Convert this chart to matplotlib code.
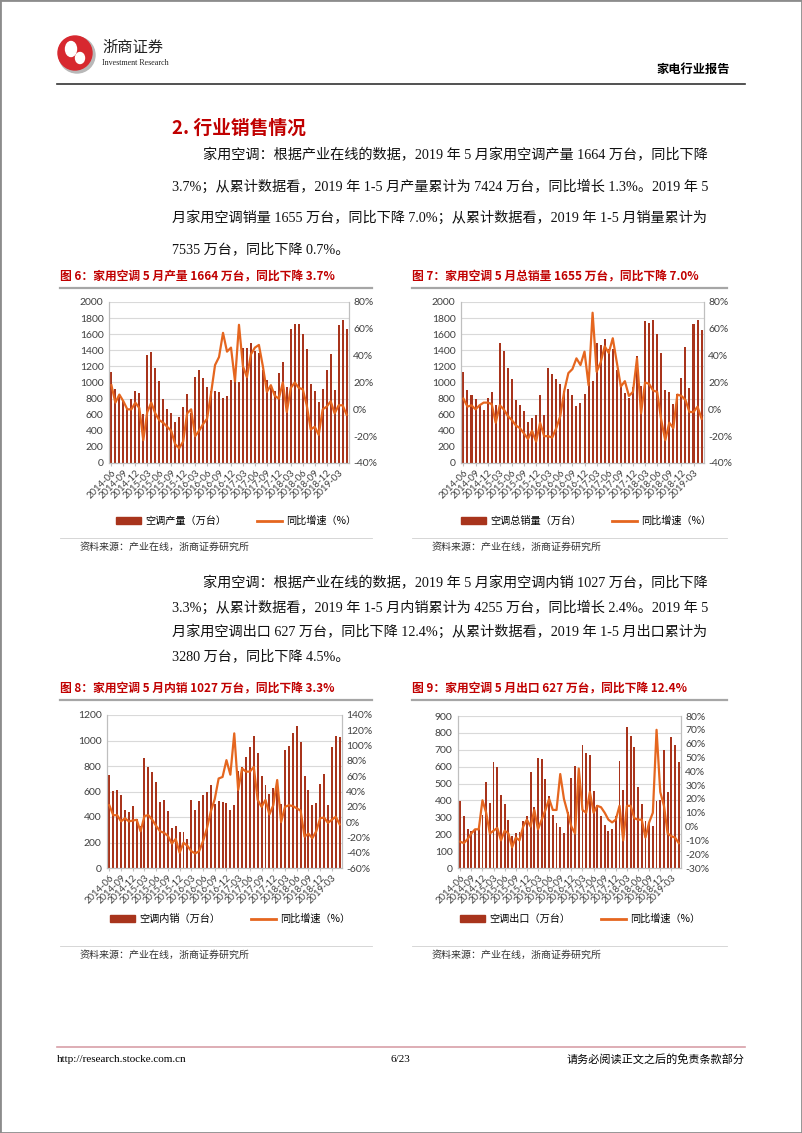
import matplotlib
matplotlib.use("Agg")
import matplotlib.pyplot as plt
from matplotlib.patches import Rectangle, Patch, Ellipse
from matplotlib.lines import Line2D
import numpy as np

plt.rcParams['font.family'] = ['Noto Sans CJK SC', 'DejaVu Sans']

W, H = 802, 1133

# x 轴刻度（每 3 个月）
tick_labels = ["2014-06", "2014-09", "2014-12", "2015-03", "2015-06", "2015-09",
               "2015-12", "2016-03", "2016-06", "2016-09", "2016-12", "2017-03",
               "2017-06", "2017-09", "2017-12", "2018-03", "2018-06", "2018-09",
               "2018-12", "2019-03"]

# 图 6 空调产量（万台）与同比（%）
prod = [1130, 920, 850, 776, 680, 800, 892, 867, 610, 1340,
        1385, 1183, 1017, 797, 672, 627, 510, 573, 693, 851,
        620, 1070, 1160, 1058, 950, 900, 890, 880, 810, 830,
        1025, 1020, 1008, 1431, 1431, 1485, 1390, 1370, 1160, 1025,
        942, 892, 1116, 1257, 946, 1660, 1726, 1726, 1602, 1411,
        979, 900, 759, 917, 1160, 1350, 905, 1710, 1776, 1664]
prod_yoy = [18, 5, 11, 6, 0, 0, 5, 1, -23, -2,
            5, -3, -8, -10, -13, -16, -26, -29, -24, -3,
            0, -20, -16, -11, -7, 12, 33, 39, 57, 43,
            46, 21, 63, 32, 24, 41, 46, 48, 32, 13,
            18, 10, 8, 20, -2, 16, 20, 16, 15, 3,
            -15, -13, -19, 0, 2, 6, -3, 3, 3, -4]

# 图 7 空调总销量
sales = [1130, 905, 846, 801, 720, 664, 809, 884, 726, 1485,
         1390, 1183, 1046, 788, 726, 643, 506, 560, 602, 842,
         593, 1183, 1100, 1046, 983, 900, 915, 850, 710, 750,
         855, 1000, 1020, 1485, 1465, 1543, 1410, 1420, 1150, 960,
         870, 810, 950, 1328, 960, 1763, 1743, 1772, 1598, 1369,
         913, 884, 739, 863, 1058, 1440, 933, 1722, 1772, 1655]
sales_yoy = [8, 2, 3, 0, 3, 5, 5, 4, -10, 3,
             0, -5, -8, -12, -14, -18, -22, -16, -24, -10,
             -20, -20, -21, -14, -5, 14, 27, 30, 38, 33,
             43, 18, 72, 28, 35, 47, 42, 53, 35, 17,
             21, 10, 13, 38, -3, 20, 19, 14, 13, -8,
             -23, -10, -14, 11, 10, 7, -2, -2, 2, -7]

# 图 8 空调内销
dom = [731, 601, 614, 575, 458, 440, 489, 385, 330, 866,
       796, 754, 671, 515, 533, 445, 315, 328, 281, 281,
       229, 536, 458, 523, 570, 596, 653, 502, 523, 517,
       509, 455, 495, 757, 790, 874, 952, 1038, 900, 718,
       653, 580, 627, 694, 502, 926, 960, 1056, 1116, 986,
       723, 614, 497, 507, 661, 739, 492, 947, 1035, 1027]
dom_yoy = [22, 9, 9, 1, 5, 1, 2, 3, -12, 8,
           9, 3, -5, -12, -14, -18, -28, -22, -40, -27,
           -31, -38, -41, -38, -25, -8, 14, 30, 57, 59,
           81, 62, 116, 42, 70, 66, 66, 72, 29, 20,
           29, 10, 22, 55, 0, 20, 22, 21, 18, 15,
           -19, -15, -21, -12, 5, 6, -1, 3, 7, -3]

# 图 9 空调出口
exp = [395, 305, 230, 220, 230, 230, 315, 510, 385, 625,
       600, 430, 380, 285, 190, 210, 215, 277, 310, 570,
       360, 650, 645, 525, 425, 315, 265, 240, 210, 330,
       535, 605, 511, 731, 678, 670, 458, 375, 306, 257,
       222, 230, 310, 631, 464, 837, 784, 715, 477, 379,
       280, 265, 248, 399, 400, 700, 450, 774, 730, 627]
exp_yoy = [-11, -12, -9, -5, -2, -2, 19, 10, -5, -3,
           -1, -10, -3, -5, -15, -8, -10, 0, 5, 0,
           12, -2, 5, 12, 20, 12, 12, 38, 20, 10,
           0, -5, 42, 12, 10, 25, 10, 15, 14, 10,
           5, 3, 5, 15, -10, 15, 15, 6, 5, 5,
           -8, 3, 10, 70, 25, 15, -5, -7, -8, -12]

BAR = "#A8341C"
LINE = "#E5661F"
RED = "#C00000"
GRID = "#D9D9D9"
SPINE = "#BFBFBF"
SERIF = ['Liberation Serif', 'Noto Sans CJK SC']
NUM = ['Lato', 'Noto Sans CJK SC']

fig = plt.figure(figsize=(W / 100, H / 100), dpi=100)


def T(x, y, s, **kw):
    kw.setdefault("va", "center")
    fig.text(x / W, 1 - y / H, s, **kw)


def hline(x0, x1, y, color, lw):
    fig.add_artist(Line2D([x0 / W, x1 / W], [1 - y / H, 1 - y / H],
                          transform=fig.transFigure, color=color, lw=lw))


def draw_chart(left, top, right, bottom, bars, yoy, ymax, ystep,
               rmin, rmax, rstep, bar_name, legend_xy):
    ax = fig.add_axes([left / W, 1 - bottom / H, (right - left) / W, (bottom - top) / H])
    x = np.arange(len(bars))
    ax.bar(x, bars, width=0.5, color=BAR, zorder=2)
    ax.set_xlim(-0.6, len(bars) - 0.4)
    ax.set_ylim(0, ymax)
    ax.set_yticks(np.arange(0, ymax + 1, ystep))
    ax.grid(axis="y", color=GRID, lw=0.8, zorder=0)
    ax.set_axisbelow(True)
    ax.set_xticks(x[::3])
    ax.set_xticklabels(tick_labels, rotation=45, ha="right", rotation_mode="anchor",
                       fontsize=6.8, family=NUM, color="#404040")
    ax.tick_params(axis="x", length=2.5, color=SPINE, pad=1.5)
    ax.tick_params(axis="y", length=0, labelsize=7.5, labelcolor="#404040", pad=4)
    for lab in ax.get_yticklabels():
        lab.set_family(NUM)
    for s in ("left", "right", "bottom"):
        ax.spines[s].set_color(SPINE)
    ax.spines["top"].set_visible(False)

    ax2 = ax.twinx()
    ax2.plot(x, yoy, color=LINE, lw=1.6, zorder=3)
    ax2.set_ylim(rmin, rmax)
    ax2.set_yticks(np.arange(rmin, rmax + 1, rstep))
    ax2.set_yticklabels([f"{v}%" for v in range(rmin, rmax + 1, rstep)])
    ax2.tick_params(axis="y", length=0, labelsize=7.5, labelcolor="#404040", pad=3)
    for lab in ax2.get_yticklabels():
        lab.set_family(NUM)
    for s in ("left", "right", "bottom"):
        ax2.spines[s].set_color(SPINE)
    ax2.spines["top"].set_visible(False)

    handles = [Patch(color=BAR), Line2D([], [], color=LINE, lw=2)]
    fig.legend(handles, [bar_name, "同比增速（%）"], loc="center",
               bbox_to_anchor=(legend_xy[0] / W, 1 - legend_xy[1] / H),
               ncol=2, frameon=False, fontsize=7.3, handlelength=2.5,
               handleheight=0.7, handletextpad=0.4, columnspacing=3.0)


# 页面边框
fig.add_artist(Rectangle((0, 0), 1, 1, transform=fig.transFigure, fill=False,
                         ec="#8C8C8C", lw=2))

# 页眉 logo
fig.add_artist(Ellipse((77 / W, 1 - 55 / H), 36 / W, 36 / H, transform=fig.transFigure,
                       color="#B8B8B8"))
fig.add_artist(Ellipse((75 / W, 1 - 53 / H), 34 / W, 34 / H, transform=fig.transFigure,
                       color="#D7282F"))
fig.add_artist(Ellipse((71 / W, 1 - 49 / H), 11 / W, 15 / H, transform=fig.transFigure,
                       color="white"))
fig.add_artist(Ellipse((80 / W, 1 - 58 / H), 9 / W, 11 / H, transform=fig.transFigure,
                       color="white"))
T(102, 47, "浙商证券", fontsize=11, color="#222222")
T(102, 63, "Investment Research", fontsize=5.8, family=SERIF, color="#222222")
T(730, 69, "家电行业报告", fontsize=8.8, fontweight="bold", ha="right")
hline(57, 745, 84, "#333333", 1.2)

# 正文
T(172, 128, "2. 行业销售情况", fontsize=13.5, fontweight="bold", color=RED)
para1 = ["家用空调：根据产业在线的数据，2019 年 5 月家用空调产量 1664 万台，同比下降",
         "3.7%；从累计数据看，2019 年 1-5 月产量累计为 7424 万台，同比增长 1.3%。2019 年 5",
         "月家用空调销量 1655 万台，同比下降 7.0%；从累计数据看，2019 年 1-5 月销量累计为",
         "7535 万台，同比下降 0.7%。"]
for i, line in enumerate(para1):
    T(203 if i == 0 else 172, 155 + i * 31.5, line, fontsize=10.2, family=SERIF, color="#111111")

para2 = ["家用空调：根据产业在线的数据，2019 年 5 月家用空调内销 1027 万台，同比下降",
         "3.3%；从累计数据看，2019 年 1-5 月内销累计为 4255 万台，同比增长 2.4%。2019 年 5",
         "月家用空调出口 627 万台，同比下降 12.4%；从累计数据看，2019 年 1-5 月出口累计为",
         "3280 万台，同比下降 4.5%。"]
for i, line in enumerate(para2):
    T(203 if i == 0 else 172, 583 + i * 24.5, line, fontsize=10.2, family=SERIF, color="#111111")

# 图标题
T(60, 276, "图 6：家用空调 5 月产量 1664 万台，同比下降 3.7%", fontsize=8.5,
  fontweight="bold", color=RED)
T(412, 276, "图 7：家用空调 5 月总销量 1655 万台，同比下降 7.0%", fontsize=8.5,
  fontweight="bold", color=RED)
T(60, 688, "图 8：家用空调 5 月内销 1027 万台，同比下降 3.3%", fontsize=8.5,
  fontweight="bold", color=RED)
T(412, 688, "图 9：家用空调 5 月出口 627 万台，同比下降 12.4%", fontsize=8.5,
  fontweight="bold", color=RED)
for y in (288, 700):
    hline(60, 372, y, "#A6A6A6", 1.6)
    hline(412, 727, y, "#A6A6A6", 1.6)
for y in (538, 946):
    hline(60, 372, y, "#D0D0D0", 0.6)
    hline(412, 727, y, "#D0D0D0", 0.6)

draw_chart(109, 302, 349, 463, prod, prod_yoy, 2000, 200, -40, 80, 20,
           "空调产量（万台）", (236, 521))
draw_chart(461, 302, 704, 463, sales, sales_yoy, 2000, 200, -40, 80, 20,
           "空调总销量（万台）", (586, 521))
draw_chart(107, 715, 342, 868, dom, dom_yoy, 1200, 200, -60, 140, 20,
           "空调内销（万台）", (230, 919))
draw_chart(458, 716, 681, 868, exp, exp_yoy, 900, 100, -30, 80, 10,
           "空调出口（万台）", (580, 919))

T(80, 547, "资料来源：产业在线，浙商证券研究所", fontsize=7.2, color="#333333")
T(432, 547, "资料来源：产业在线，浙商证券研究所", fontsize=7.2, color="#333333")
T(80, 955, "资料来源：产业在线，浙商证券研究所", fontsize=7.2, color="#333333")
T(432, 955, "资料来源：产业在线，浙商证券研究所", fontsize=7.2, color="#333333")

# 页脚
hline(57, 745, 1047, "#D8A0A8", 1.2)
T(57, 1059, "http://research.stocke.com.cn", fontsize=8, family=SERIF)
T(400, 1059, "6/23", fontsize=8, family=SERIF, ha="center")
T(745, 1059, "请务必阅读正文之后的免责条款部分", fontsize=8, ha="right")

fig.savefig("out.png", dpi=100)
